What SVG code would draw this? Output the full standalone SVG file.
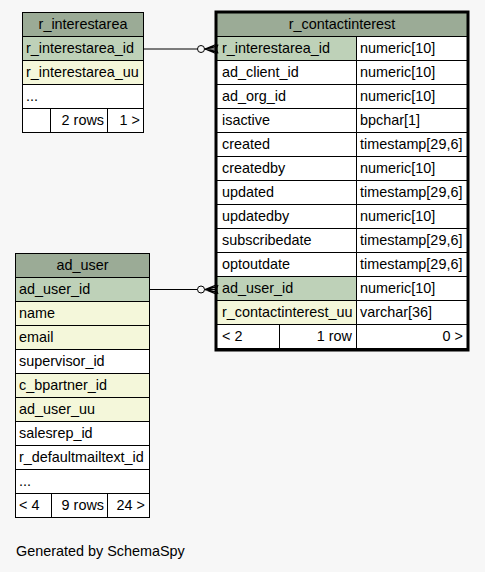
<svg xmlns="http://www.w3.org/2000/svg" width="485" height="572" viewBox="0 0 485 572">
<style>
text{font-family:"Liberation Sans",Arial,sans-serif;font-size:14.4px;fill:#000}
.c{stroke:#000;stroke-width:1}
.h{fill:#9bab96}
.pk{fill:#bed1b8}
.ix{fill:#f4f7da}
.w{fill:#ffffff}
.m{text-anchor:middle}
.e{text-anchor:end}
.ln{stroke:#000;stroke-width:1;fill:none}
.cf{stroke:#000;stroke-width:1.3;fill:none}
</style>
<rect width="485" height="572" fill="#f7f7f7"/>
<g id="r_interestarea">
<rect class="c h" x="22.5" y="12.5" width="121" height="24"/>
<text class="m" x="83" y="29">r_interestarea</text>
<rect class="c pk" x="22.5" y="36.5" width="121" height="24"/>
<text x="26" y="53">r_interestarea_id</text>
<rect class="c ix" x="22.5" y="60.5" width="121" height="24"/>
<text x="26" y="77">r_interestarea_uu</text>
<rect class="c w" x="22.5" y="84.5" width="121" height="24"/>
<text x="26" y="101">...</text>
<rect class="c w" x="22.5" y="108.5" width="28" height="24"/>
<rect class="c w" x="50.5" y="108.5" width="57" height="24"/>
<rect class="c w" x="107.5" y="108.5" width="36" height="24"/>
<text class="e" x="104" y="125">2 rows</text>
<text class="e" x="140" y="125">1 &gt;</text>
</g>
<g id="r_contactinterest">
<rect class="c h" x="216.5" y="12.5" width="251" height="24"/>
<text class="m" x="342" y="29">r_contactinterest</text>
<rect class="c pk" x="216.5" y="36.5" width="140" height="24"/><rect class="c w" x="356.5" y="36.5" width="111" height="24"/>
<text x="222" y="53">r_interestarea_id</text><text x="360" y="53">numeric[10]</text>
<rect class="c w" x="216.5" y="60.5" width="140" height="24"/><rect class="c w" x="356.5" y="60.5" width="111" height="24"/>
<text x="222" y="77">ad_client_id</text><text x="360" y="77">numeric[10]</text>
<rect class="c w" x="216.5" y="84.5" width="140" height="24"/><rect class="c w" x="356.5" y="84.5" width="111" height="24"/>
<text x="222" y="101">ad_org_id</text><text x="360" y="101">numeric[10]</text>
<rect class="c w" x="216.5" y="108.5" width="140" height="24"/><rect class="c w" x="356.5" y="108.5" width="111" height="24"/>
<text x="222" y="125">isactive</text><text x="360" y="125">bpchar[1]</text>
<rect class="c w" x="216.5" y="132.5" width="140" height="24"/><rect class="c w" x="356.5" y="132.5" width="111" height="24"/>
<text x="222" y="149">created</text><text x="360" y="149">timestamp[29,6]</text>
<rect class="c w" x="216.5" y="156.5" width="140" height="24"/><rect class="c w" x="356.5" y="156.5" width="111" height="24"/>
<text x="222" y="173">createdby</text><text x="360" y="173">numeric[10]</text>
<rect class="c w" x="216.5" y="180.5" width="140" height="24"/><rect class="c w" x="356.5" y="180.5" width="111" height="24"/>
<text x="222" y="197">updated</text><text x="360" y="197">timestamp[29,6]</text>
<rect class="c w" x="216.5" y="204.5" width="140" height="24"/><rect class="c w" x="356.5" y="204.5" width="111" height="24"/>
<text x="222" y="221">updatedby</text><text x="360" y="221">numeric[10]</text>
<rect class="c w" x="216.5" y="228.5" width="140" height="24"/><rect class="c w" x="356.5" y="228.5" width="111" height="24"/>
<text x="222" y="245">subscribedate</text><text x="360" y="245">timestamp[29,6]</text>
<rect class="c w" x="216.5" y="252.5" width="140" height="24"/><rect class="c w" x="356.5" y="252.5" width="111" height="24"/>
<text x="222" y="269">optoutdate</text><text x="360" y="269">timestamp[29,6]</text>
<rect class="c pk" x="216.5" y="276.5" width="140" height="24"/><rect class="c w" x="356.5" y="276.5" width="111" height="24"/>
<text x="222" y="293">ad_user_id</text><text x="360" y="293">numeric[10]</text>
<rect class="c ix" x="216.5" y="300.5" width="140" height="24"/><rect class="c w" x="356.5" y="300.5" width="111" height="24"/>
<text x="222" y="317">r_contactinterest_uu</text><text x="360" y="317">varchar[36]</text>
<rect class="c w" x="216.5" y="324.5" width="63" height="24"/><rect class="c w" x="279.5" y="324.5" width="77" height="24"/><rect class="c w" x="356.5" y="324.5" width="111" height="24"/>
<text x="222" y="341">&lt; 2</text><text class="e" x="352" y="341">1 row</text><text class="e" x="463" y="341">0 &gt;</text>
<rect x="216" y="12" width="252" height="338" fill="none" stroke="#000" stroke-width="3"/>
</g>
<g id="ad_user">
<rect class="c h" x="15.5" y="253.5" width="134" height="24"/>
<text class="m" x="82.5" y="270">ad_user</text>
<rect class="c pk" x="15.5" y="277.5" width="134" height="24"/><text x="19" y="294">ad_user_id</text>
<rect class="c ix" x="15.5" y="301.5" width="134" height="24"/><text x="19" y="318">name</text>
<rect class="c ix" x="15.5" y="325.5" width="134" height="24"/><text x="19" y="342">email</text>
<rect class="c w" x="15.5" y="349.5" width="134" height="24"/><text x="19" y="366">supervisor_id</text>
<rect class="c ix" x="15.5" y="373.5" width="134" height="24"/><text x="19" y="390">c_bpartner_id</text>
<rect class="c ix" x="15.5" y="397.5" width="134" height="24"/><text x="19" y="414">ad_user_uu</text>
<rect class="c w" x="15.5" y="421.5" width="134" height="24"/><text x="19" y="438">salesrep_id</text>
<rect class="c w" x="15.5" y="445.5" width="134" height="24"/><text x="19" y="462">r_defaultmailtext_id</text>
<rect class="c w" x="15.5" y="469.5" width="134" height="24"/><text x="19" y="486">...</text>
<rect class="c w" x="15.5" y="493.5" width="36" height="24"/><rect class="c w" x="51.5" y="493.5" width="56" height="24"/><rect class="c w" x="107.5" y="493.5" width="42" height="24"/>
<text x="19" y="510">&lt; 4</text><text class="e" x="104" y="510">9 rows</text><text class="e" x="145" y="510">24 &gt;</text>
</g>
<g id="connectors">
<path class="ln" d="M144,49 H197.5 M204.5,49 H216"/>
<circle class="ln" cx="201" cy="49" r="3.5" fill="#fff"/>
<path class="cf" d="M205,49 L216,44.5 M205,49 L216,46.5 M205,49 L216,51.5 M205,49 L216,53.5 M218,44.5 Q215.5,49 218,53.5"/>
<path class="ln" d="M150,289.5 H197.5 M204.5,289.5 H216"/>
<circle class="ln" cx="201" cy="289.5" r="3.5" fill="#fff"/>
<path class="cf" d="M205,289.5 L216,285 M205,289.5 L216,287 M205,289.5 L216,292 M205,289.5 L216,294 M218,285 Q215.5,289.5 218,294"/>
</g>
<text x="16" y="556">Generated by SchemaSpy</text>
</svg>
